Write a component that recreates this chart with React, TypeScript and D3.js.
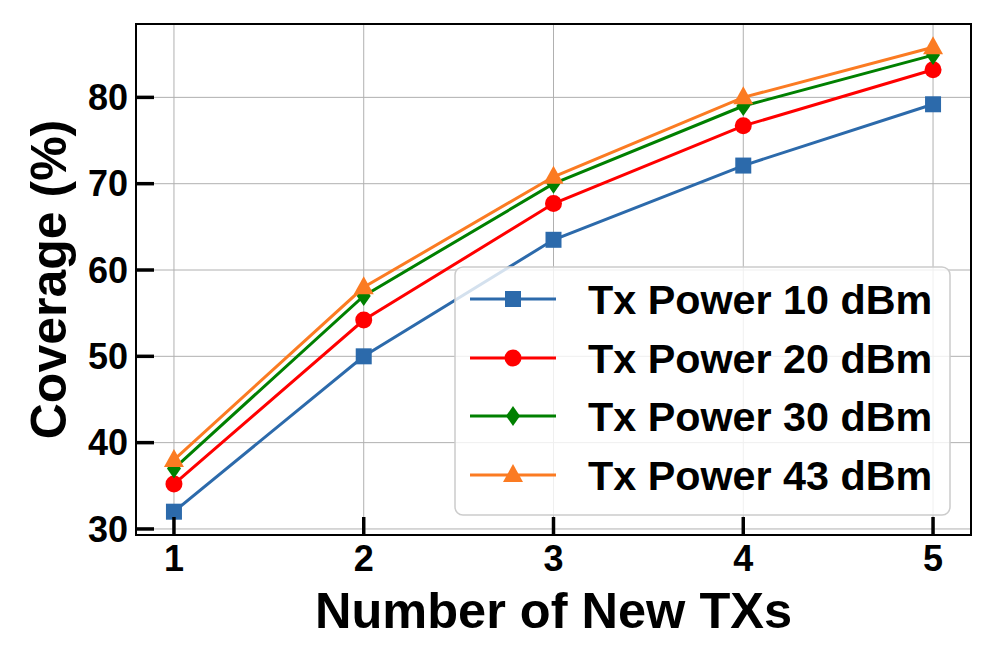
import React from "react";
import * as d3 from "d3";

const txs = [1, 2, 3, 4, 5];
const p10 = [32.0, 50.0, 63.5, 72.1, 79.2];
const p20 = [35.2, 54.2, 67.7, 76.7, 83.2];
const p30 = [37.0, 57.0, 70.0, 79.0, 84.9];
const p43 = [38.0, 58.0, 70.8, 80.0, 85.8];
const yTicks = [30, 40, 50, 60, 70, 80];
const labels = ["Tx Power 10 dBm", "Tx Power 20 dBm", "Tx Power 30 dBm", "Tx Power 43 dBm"];

const series = [
  { name: labels[0], values: p10, color: "#2c6aab", marker: "square" },
  { name: labels[1], values: p20, color: "#ff0000", marker: "circle" },
  { name: labels[2], values: p30, color: "#008000", marker: "diamond" },
  { name: labels[3], values: p43, color: "#fb7b22", marker: "triangle" }
];

const W = 996;
const H = 664;
const box = { left: 136, right: 971, top: 24, bottom: 535 };
const font = "'Liberation Sans', Arial, Helvetica, sans-serif";

function Marker({ type, x, y, color }: { type: string; x: number; y: number; color: string }) {
  if (type === "square") return <rect x={x - 8} y={y - 8} width={16} height={16} fill={color} />;
  if (type === "circle") return <circle cx={x} cy={y} r={8.5} fill={color} />;
  if (type === "diamond")
    return <path d={`M${x},${y - 10} L${x + 7},${y} L${x},${y + 10} L${x - 7},${y} Z`} fill={color} />;
  return <path d={`M${x},${y - 11} L${x + 10},${y + 7} L${x - 10},${y + 7} Z`} fill={color} />;
}

export default function App() {
  const x = d3.scaleLinear().domain([0.8, 5.2]).range([box.left, box.right]);
  const y = d3.scaleLinear().domain([29.3, 88.5]).range([box.bottom, box.top]);
  const line = d3
    .line<number>()
    .x((d, i) => x(txs[i]))
    .y(d => y(d));

  const legend = { x: 455, y: 267, w: 495, h: 248 };
  const rowY = [299, 358, 416, 475];

  return (
    <svg width={W} height={H} style={{ position: "absolute", left: 0, top: 0 }} fontFamily={font}>
      <rect width={W} height={H} fill="#fff" />
      {/* grid */}
      {txs.map(t => (
        <line key={"gx" + t} x1={x(t)} x2={x(t)} y1={box.top} y2={box.bottom} stroke="#b0b0b0" strokeWidth={1} />
      ))}
      {yTicks.map(t => (
        <line key={"gy" + t} x1={box.left} x2={box.right} y1={y(t)} y2={y(t)} stroke="#b0b0b0" strokeWidth={1} />
      ))}
      {/* series */}
      {series.map(s => (
        <g key={s.name}>
          <path d={line(s.values) || ""} fill="none" stroke={s.color} strokeWidth={3} />
          {s.values.map((v, i) => (
            <Marker key={i} type={s.marker} x={x(txs[i])} y={y(v)} color={s.color} />
          ))}
        </g>
      ))}
      {/* ticks, inward */}
      {txs.map(t => (
        <g key={"tx" + t}>
          <line x1={x(t)} x2={x(t)} y1={box.bottom} y2={box.bottom - 18} stroke="#000" strokeWidth={3.5} />
          <text x={x(t)} y={571} textAnchor="middle" fontSize={36} fontWeight="bold">
            {t}
          </text>
        </g>
      ))}
      {yTicks.map(t => (
        <g key={"ty" + t}>
          <line x1={box.left} x2={box.left + 18} y1={y(t)} y2={y(t)} stroke="#000" strokeWidth={3.5} />
          <text x={128} y={y(t)} dy="0.35em" textAnchor="end" fontSize={36} fontWeight="bold">
            {t}
          </text>
        </g>
      ))}
      <rect
        x={box.left}
        y={box.top}
        width={box.right - box.left}
        height={box.bottom - box.top}
        fill="none"
        stroke="#000"
        strokeWidth={2}
      />
      {/* legend */}
      <rect
        x={legend.x}
        y={legend.y}
        width={legend.w}
        height={legend.h}
        rx={8}
        fill="#fff"
        fillOpacity={0.8}
        stroke="#cccccc"
        strokeWidth={1.5}
      />
      {series.map((s, i) => (
        <g key={"lg" + i}>
          <line x1={470} x2={556} y1={rowY[i]} y2={rowY[i]} stroke={s.color} strokeWidth={3} />
          <Marker type={s.marker} x={513} y={rowY[i]} color={s.color} />
          <text x={588} y={rowY[i]} dy="0.36em" fontSize={41.3} fontWeight="bold">
            {s.name}
          </text>
        </g>
      ))}
      {/* axis labels */}
      <text x={(box.left + box.right) / 2} y={628} textAnchor="middle" fontSize={50.5} fontWeight="bold">
        Number of New TXs
      </text>
      <text
        transform={`translate(66, ${(box.top + box.bottom) / 2}) rotate(-90)`}
        textAnchor="middle"
        fontSize={50}
        fontWeight="bold"
      >
        Coverage (%)
      </text>
    </svg>
  );
}
